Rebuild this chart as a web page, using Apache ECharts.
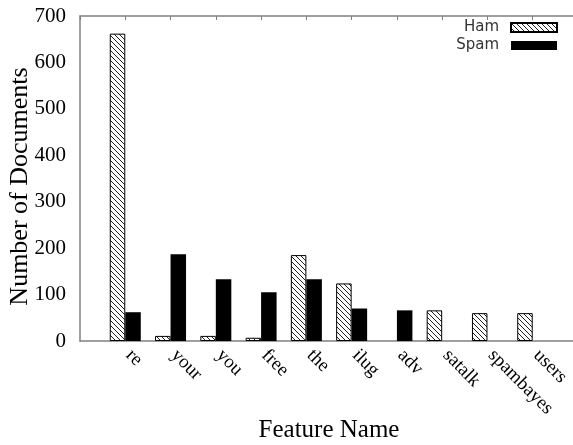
<!DOCTYPE html>
<html>
<head>
<meta charset="utf-8">
<script src="https://cdn.jsdelivr.net/npm/echarts@6/dist/echarts.min.js"></script>
<style>
html,body{margin:0;padding:0;background:#fff;}
#chart{width:573px;height:445px;}
</style>
</head>
<body>
<div id="chart"></div>
<script>
const categories = ['re', 'your', 'you', 'free', 'the', 'ilug', 'adv', 'satalk', 'spambayes', 'users'];
const hamValues = [662, 11, 11, 7, 185, 124, 0, 66, 60, 60];
const spamValues = [62, 187, 133, 105, 133, 70, 66, 0, 0, 0];
const yTicks = [0, 100, 200, 300, 400, 500, 600, 700];

function makeHatch() {
  const s = 5;
  const c = document.createElement('canvas');
  c.width = s; c.height = s;
  const ctx = c.getContext('2d');
  ctx.fillStyle = '#fff';
  ctx.fillRect(0, 0, s, s);
  ctx.fillStyle = '#222';
  for (let i = 0; i < s; i++) ctx.fillRect(i, i, 1, 1);
  return c;
}
const hatch = { image: makeHatch(), repeat: 'repeat' };

const chart = echarts.init(document.getElementById('chart'), null, { renderer: 'canvas' });
const serif = 'Liberation Serif';
const axisGray = '#808080';

function barData(values) {
  return categories.map((c, i) => {
    const item = { value: [i, values[i]] };
    if (values[i] === 0) item.itemStyle = { borderWidth: 0 };
    return item;
  });
}

chart.setOption({
  animation: false,
  backgroundColor: '#fff',
  grid: { left: 80, top: 16, right: -5, bottom: 104, containLabel: false, outerBoundsMode: 'none' },
  legend: {
    data: ['Ham', 'Spam'],
    orient: 'vertical',
    right: 15,
    top: 20,
    padding: 0,
    align: 'right',
    itemWidth: 46,
    itemHeight: 9,
    itemGap: 3,
    icon: 'rect',
    textStyle: { fontFamily: 'DejaVu Sans', fontSize: 15, color: '#333', padding: [0, 7, 0, 0] }
  },
  xAxis: [
    {
      type: 'value',
      min: -1,
      max: 10,
      interval: 1,
      position: 'bottom',
      name: 'Feature Name',
      nameLocation: 'middle',
      nameGap: 77,
      nameMoveOverlap: false,
      nameTextStyle: { fontFamily: serif, fontSize: 25, color: '#000' },
      axisLine: { show: true, onZero: false, lineStyle: { color: axisGray, width: 1.5 } },
      axisTick: { show: false },
      splitLine: { show: false },
      axisLabel: {
        rotate: -45,
        margin: 8,
        padding: [0, 0, 0, 5],
        fontFamily: serif,
        fontSize: 19,
        color: '#000',
        showMinLabel: false,
        showMaxLabel: false,
        formatter: function (v) { return categories[v] !== undefined ? categories[v] : ''; }
      }
    },
    {
      type: 'value',
      min: -1,
      max: 10,
      interval: 1,
      position: 'top',
      axisLine: { show: true, onZero: false, lineStyle: { color: axisGray, width: 1.5 } },
      axisTick: { show: true, inside: true, length: 4, lineStyle: { color: axisGray } },
      axisLabel: { show: false },
      splitLine: { show: false }
    }
  ],
  yAxis: {
    type: 'value',
    min: yTicks[0],
    max: yTicks[yTicks.length - 1],
    interval: 100,
    name: 'Number of Documents',
    nameLocation: 'middle',
    nameGap: 47,
    nameMoveOverlap: false,
    nameTextStyle: { fontFamily: serif, fontSize: 26, color: '#000', padding: [0, 16, 0, 0] },
    axisLine: { show: true, onZero: false, lineStyle: { color: axisGray, width: 1.5 } },
    axisTick: { show: false },
    splitLine: { show: false },
    axisLabel: { margin: 14, fontFamily: serif, fontSize: 21, color: '#000' }
  },
  series: [
    {
      name: 'Ham',
      type: 'bar',
      xAxisIndex: 0,
      barWidth: 15.5,
      barGap: '0%',
      data: barData(hamValues),
      itemStyle: { color: hatch, borderColor: '#000', borderWidth: 1 }
    },
    {
      name: 'Spam',
      type: 'bar',
      xAxisIndex: 0,
      barWidth: 15.5,
      barGap: '0%',
      data: barData(spamValues),
      itemStyle: { color: '#000', borderWidth: 0 }
    }
  ]
});
</script>
</body>
</html>
